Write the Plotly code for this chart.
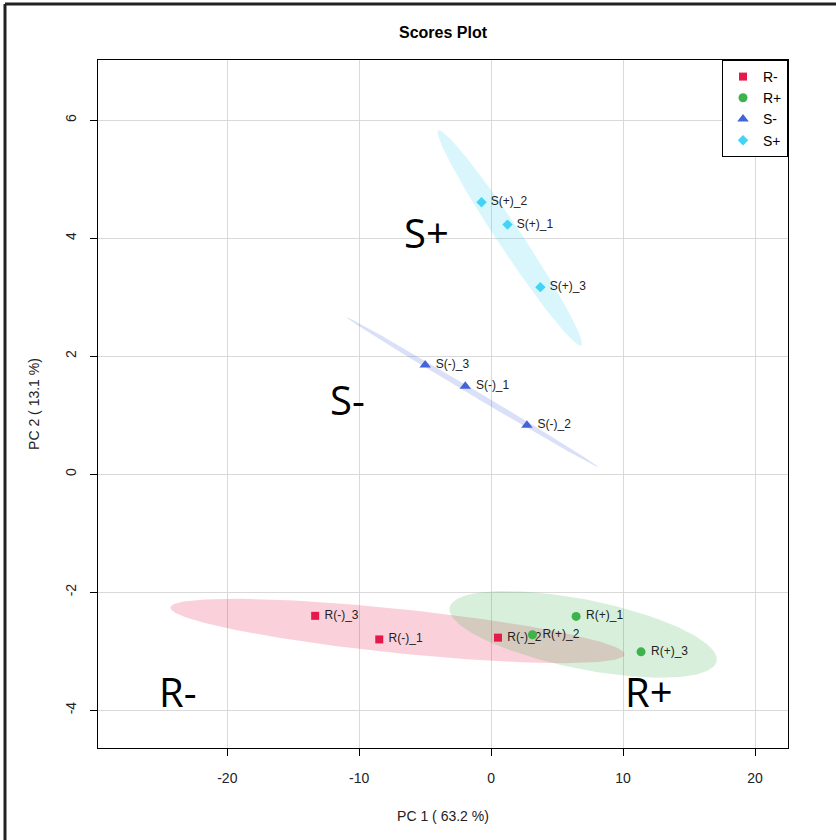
import numpy as np
import plotly.graph_objects as go

# ---- data ----
groups = ["R-", "R+", "S-", "S+"]
names = {
    "R-": ["R(-)_1", "R(-)_2", "R(-)_3"],
    "R+": ["R(+)_1", "R(+)_2", "R(+)_3"],
    "S-": ["S(-)_1", "S(-)_2", "S(-)_3"],
    "S+": ["S(+)_1", "S(+)_2", "S(+)_3"],
}
pc1 = {
    "R-": [-8.48, 0.52, -13.34],
    "R+": [6.44, 3.13, 11.36],
    "S-": [-1.96, 2.71, -5.0],
    "S+": [1.24, -0.73, 3.73],
}
pc2 = {
    "R-": [-2.80, -2.77, -2.40],
    "R+": [-2.41, -2.72, -3.01],
    "S-": [1.49, 0.83, 1.85],
    "S+": [4.23, 4.61, 3.17],
}
colors = {"R-": "#E6194B", "R+": "#3CB44B", "S-": "#4363D8", "S+": "#42D4F4"}
fills = {"R-": "rgba(230,25,75,0.2)", "R+": "rgba(60,180,75,0.2)",
         "S-": "rgba(67,99,216,0.2)", "S+": "rgba(66,212,244,0.2)"}
symbols = {"R-": "square", "R+": "circle", "S-": "triangle-up", "S+": "diamond"}
msize = {"R-": 8, "R+": 9, "S-": 10, "S+": 8}

x_ticks = [-20, -10, 0, 10, 20]
x_ticktext = ["-20", "-10", "0", "10", "20"]
y_ticks = [-4, -2, 0, 2, 4, 6]
y_ticktext = ["-4", "-2", "0", "2", "4", "6"]
x_title = "PC 1 ( 63.2 %)"
y_title = "PC 2 ( 13.1 %)"
title = "Scores Plot"

big_labels = ["S+", "S-", "R-", "R+"]
big_x = [-4.9, -10.9, -23.7, 12.0]
big_y = [4.1, 1.27, -3.68, -3.68]


def conf_ellipse(x, y, level=0.95, n=200):
    x = np.asarray(x); y = np.asarray(y)
    cov = np.cov(x, y)
    sx, sy = np.sqrt(cov[0, 0]), np.sqrt(cov[1, 1])
    r = cov[0, 1] / (sx * sy)
    d = np.arccos(np.clip(r, -1, 1))
    t = np.sqrt(-2 * np.log(1 - level))  # sqrt(qchisq(level, 2))
    a = np.linspace(0, 2 * np.pi, n)
    ex = t * sx * np.cos(a + d / 2) + x.mean()
    ey = t * sy * np.cos(a - d / 2) + y.mean()
    return ex, ey


fig = go.Figure()
for g in groups:
    ex, ey = conf_ellipse(pc1[g], pc2[g])
    fig.add_trace(go.Scatter(x=ex, y=ey, mode="lines", fill="toself",
                             fillcolor=fills[g], line=dict(width=0),
                             hoverinfo="skip", showlegend=False))
for g in groups:
    fig.add_trace(go.Scatter(
        x=pc1[g], y=pc2[g], mode="markers+text", name=g,
        text=names[g], texttemplate=" %{text}", textposition="middle right",
        textfont=dict(family="Liberation Sans, Arial", size=12, color="#222"),
        marker=dict(symbol=symbols[g], color=colors[g], size=msize[g], line=dict(width=0)),
    ))

for t, xx, yy in zip(big_labels, big_x, big_y):
    fig.add_annotation(x=xx, y=yy, text=t, showarrow=False,
                       font=dict(family="Open Sans", size=40, color="black"))

axis_common = dict(showline=True, linecolor="black", linewidth=1, mirror=True,
                   showgrid=True, gridcolor="#d9d9d9", gridwidth=1,
                   ticks="outside", ticklen=7, tickcolor="black",
                   zeroline=False,
                   tickfont=dict(family="Liberation Sans, Arial", size=14, color="#222"),
                   title_font=dict(family="Liberation Sans, Arial", size=14, color="#222"))

fig.update_xaxes(range=[-29.8, 22.5], tickvals=x_ticks, ticktext=x_ticktext,
                 title_text=x_title, ticklabelstandoff=10, title_standoff=26, **axis_common)
fig.update_yaxes(range=[-4.64, 7.02], tickvals=y_ticks, ticktext=y_ticktext,
                 title_text=y_title, tickangle=-90, ticklabelstandoff=8,
                 title_standoff=20, **axis_common)

# outer border of the image (left and top)
L, R, T, B = 98, 48, 60, 92
W, H = 836, 840
pw, ph = W - L - R, H - T - B
fig.add_shape(type="line", xref="paper", yref="paper",
              x0=(5 - L) / pw, x1=(W - L) / pw, y0=(H - B - 4) / ph, y1=(H - B - 4) / ph,
              line=dict(color="#222", width=3))
fig.add_shape(type="line", xref="paper", yref="paper",
              x0=(5 - L) / pw, x1=(5 - L) / pw, y0=(H - B - 4) / ph, y1=(-B) / ph,
              line=dict(color="#222", width=3))

fig.update_layout(
    width=W, height=H,
    margin=dict(l=L, r=R, t=T, b=B),
    paper_bgcolor="white", plot_bgcolor="white",
    title=dict(text="<b>" + title + "</b>", x=(L + pw / 2) / W, xanchor="center",
               y=1 - 32 / H, yanchor="middle",
               font=dict(family="Liberation Sans, Arial", size=16, color="black")),
    legend=dict(x=1, y=1, xanchor="right", yanchor="top",
                bordercolor="black", borderwidth=1, bgcolor="white",
                font=dict(family="Liberation Sans, Arial", size=14, color="black"),
                itemwidth=30, tracegroupgap=0),
    showlegend=True,
)

fig.write_html("out.html", config={"displayModeBar": False},
               post_script="document.body.style.margin='0px';document.body.style.overflow='hidden';")
